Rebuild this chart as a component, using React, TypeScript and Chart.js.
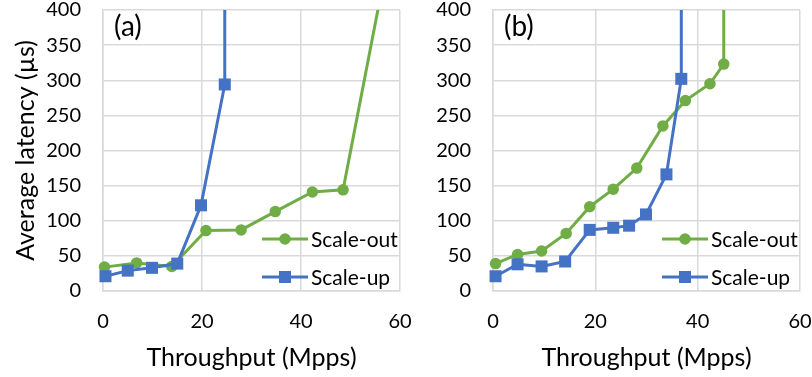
import React, { useEffect, useRef } from "react";
import { Chart, registerables } from "chart.js";

Chart.register(...registerables);

// ---------- data ----------
const seriesNames = ["Scale-out", "Scale-up"];
const panelLabels = ["(a)", "(b)"];
const xTickValues = [0, 20, 40, 60];
const yTickValues = [0, 50, 100, 150, 200, 250, 300, 350, 400];

// panel (a)
const aScaleOutX = [0.3, 6.8, 13.9, 20.8, 27.9, 34.8, 42.3, 48.5, 58];
const aScaleOutY = [34, 40, 35, 86, 87, 113, 141, 144, 490];
const aScaleUpX = [0.5, 5.0, 9.9, 15.0, 19.8, 24.6, 24.6];
const aScaleUpY = [21, 29, 33, 39, 122, 294, 1000];

// panel (b)
const bScaleOutX = [0.5, 4.8, 9.5, 14.3, 18.9, 23.5, 28.1, 33.2, 37.6, 42.4, 45.1, 45.1];
const bScaleOutY = [39, 52, 57, 82, 120, 145, 175, 235, 271, 295, 323, 1000];
const bScaleUpX = [0.5, 4.8, 9.5, 14.1, 18.9, 23.5, 26.6, 29.9, 33.9, 36.8, 36.8];
const bScaleUpY = [21, 38, 35, 42, 87, 90, 93, 109, 166, 302, 1000];

const xTitle = "Throughput (Mpps)";
const yTitle = "Average latency (µs)";

// ---------- style ----------
const FONT = "Lato";
const GREEN = "#70AD47";
const BLUE = "#4472C4";
const GRID = "#D9D9D9";
const TEXT = "#000000";

const zip = (xs: number[], ys: number[]) => xs.map((x, i) => ({ x, y: ys[i] }));

function makeOverlayPlugin(label: string) {
  return {
    id: "overlay",
    afterDatasetsDraw(chart: any) {
      const ctx = chart.ctx as CanvasRenderingContext2D;
      const ca = chart.chartArea;
      ctx.save();
      // panel label
      ctx.fillStyle = TEXT;
      ctx.font = `28px ${FONT}`;
      ctx.textAlign = "left";
      ctx.textBaseline = "middle";
      ctx.fillText(label, ca.left + 11, ca.top + 17);
      // legend
      const items = [
        { label: seriesNames[0], color: GREEN, style: "circle" },
        { label: seriesNames[1], color: BLUE, style: "rect" },
      ];
      const rows = [-52, -14];
      items.forEach((it, i) => {
        const y = ca.bottom + rows[i];
        const x1 = ca.right - 138;
        const x2 = x1 + 46;
        ctx.strokeStyle = it.color;
        ctx.lineWidth = 3;
        ctx.beginPath();
        ctx.moveTo(x1, y);
        ctx.lineTo(x2, y);
        ctx.stroke();
        ctx.fillStyle = it.color;
        const cx = (x1 + x2) / 2;
        if (it.style === "circle") {
          ctx.beginPath();
          ctx.arc(cx, y, 5.75, 0, Math.PI * 2);
          ctx.fill();
        } else {
          ctx.fillRect(cx - 6, y - 6, 12, 12);
        }
        ctx.fillStyle = TEXT;
        ctx.font = `21px ${FONT}`;
        ctx.textAlign = "left";
        ctx.textBaseline = "middle";
        ctx.fillText(it.label, x2 + 3, y + 1);
      });
      ctx.restore();
    },
  };
}

function buildConfig(
  outX: number[], outY: number[], upX: number[], upY: number[],
  label: string, yAxisWidth: number, showYTitle: boolean
): any {
  const common = {
    showLine: true,
    borderWidth: 3,
    clip: { left: 12, right: 12, top: 0, bottom: 12 },
    pointBorderWidth: 0,
    pointHoverRadius: 0,
  };
  return {
    type: "scatter",
    data: {
      datasets: [
        {
          ...common,
          label: seriesNames[0],
          data: zip(outX, outY),
          borderColor: GREEN,
          backgroundColor: GREEN,
          pointBackgroundColor: GREEN,
          pointStyle: "circle",
          pointRadius: 5.75,
          order: 1,
        },
        {
          ...common,
          label: seriesNames[1],
          data: zip(upX, upY),
          borderColor: BLUE,
          backgroundColor: BLUE,
          pointBackgroundColor: BLUE,
          pointStyle: "rect",
          pointRadius: 8.5,
          order: 0,
        },
      ],
    },
    options: {
      animation: false,
      responsive: false,
      events: [],
      layout: { autoPadding: false, padding: { left: 0, right: 12, top: 10, bottom: 0 } },
      plugins: { legend: { display: false }, tooltip: { enabled: false } },
      scales: {
        x: {
          type: "linear",
          min: xTickValues[0],
          max: xTickValues[xTickValues.length - 1],
          afterBuildTicks: (s: any) => { s.ticks = xTickValues.map((v) => ({ value: v })); },
          afterFit: (s: any) => { s.height = 86; s.paddingLeft = 0; s.paddingRight = 0; },
          grid: { color: GRID, lineWidth: 1.5, drawTicks: false },
          border: { color: GRID, width: 1.5 },
          ticks: { font: { family: FONT, size: 20 }, color: TEXT, padding: 19, maxRotation: 0 },
          title: {
            display: true,
            text: xTitle,
            font: { family: FONT, size: 25 },
            color: TEXT,
            padding: { top: 0, bottom: 4 },
          },
        },
        y: {
          type: "linear",
          min: yTickValues[0],
          max: yTickValues[yTickValues.length - 1],
          afterBuildTicks: (s: any) => { s.ticks = yTickValues.map((v) => ({ value: v })); },
          afterFit: (s: any) => { s.width = yAxisWidth; s.paddingTop = 0; s.paddingBottom = 0; },
          grid: { color: GRID, lineWidth: 1.5, drawTicks: false },
          border: { color: GRID, width: 1.5 },
          ticks: { font: { family: FONT, size: 20 }, color: TEXT, padding: 22 },
          title: {
            display: showYTitle,
            text: yTitle,
            font: { family: FONT, size: 25 },
            color: TEXT,
            padding: { top: 11, bottom: 0 },
          },
        },
      },
    },
    plugins: [makeOverlayPlugin(label)],
  };
}

function Panel(props: { cfg: () => any; left: number; width: number }) {
  const ref = useRef<HTMLCanvasElement | null>(null);
  useEffect(() => {
    if (!ref.current) return;
    const chart = new Chart(ref.current, props.cfg());
    return () => chart.destroy();
  }, []);
  return (
    <canvas
      ref={ref}
      width={props.width}
      height={377}
      style={{ position: "absolute", left: props.left, top: 0, width: props.width, height: 377 }}
    />
  );
}

export default function App() {
  useEffect(() => {
    document.body.style.margin = "0";
    document.body.style.background = "#ffffff";
  }, []);
  return (
    <div style={{ position: "relative", width: 812, height: 377, background: "#fff", overflow: "hidden" }}>
      <Panel
        left={0}
        width={412}
        cfg={() => buildConfig(aScaleOutX, aScaleOutY, aScaleUpX, aScaleUpY, panelLabels[0], 103, true)}
      />
      <Panel
        left={412}
        width={400}
        cfg={() => buildConfig(bScaleOutX, bScaleOutY, bScaleUpX, bScaleUpY, panelLabels[1], 81, false)}
      />
    </div>
  );
}
